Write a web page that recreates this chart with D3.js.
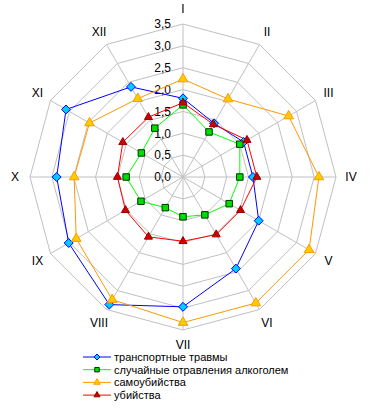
<!DOCTYPE html>
<html>
<head>
<meta charset="utf-8">
<script src="https://cdn.jsdelivr.net/npm/d3@7"></script>
<style>
  body { margin: 0; background: #fff; }
  svg { display: block; font-family: "Liberation Sans", Arial, sans-serif; }
</style>
</head>
<body>
<svg id="chart" width="372" height="408"></svg>
<script>
const months = ["I", "II", "III", "IV", "V", "VI", "VII", "VIII", "IX", "X", "XI", "XII"];
const ticks = [0, 0.5, 1, 1.5, 2, 2.5, 3, 3.5];

const transport = [1.8, 1.42, 1.6, 1.6, 2.0, 2.42, 2.97, 3.37, 3.02, 2.89, 3.09, 2.38];
const alcohol   = [1.65, 1.19, 1.5, 1.3, 1.22, 1.0, 0.91, 0.81, 1.11, 1.3, 1.1, 1.29];
const suicide   = [2.24, 2.06, 2.79, 3.11, 3.33, 3.33, 3.33, 3.24, 2.82, 2.49, 2.47, 2.07];
const homicide  = [1.7, 1.39, 1.69, 1.69, 1.52, 1.52, 1.47, 1.58, 1.52, 1.5, 1.59, 1.58];

const seriesNames = ["транспортные травмы", "случайные отравления алкоголем", "самоубийства", "убийства"];

// square rotated 45 degrees, as Excel draws its diamond marker
const diamond = {
  draw(ctx, size) {
    const h = Math.sqrt(size / 2);
    ctx.moveTo(0, -h); ctx.lineTo(h, 0); ctx.lineTo(0, h); ctx.lineTo(-h, 0); ctx.closePath();
  }
};

const series = [
  { name: seriesNames[0], values: transport, line: "#0000ff", fill: "#00ccff", stroke: "#0000ff", shape: diamond, size: 40, lsize: 18 },
  { name: seriesNames[1], values: alcohol,   line: "#00ff00", fill: "#00dd00", stroke: "#003300", shape: d3.symbolSquare, size: 42, lsize: 20 },
  { name: seriesNames[2], values: suicide,   line: "#ff9900", fill: "#ffcc00", stroke: "#ff9900", shape: d3.symbolTriangle, size: 40, lsize: 18 },
  { name: seriesNames[3], values: homicide,  line: "#ff0000", fill: "#cc0000", stroke: "#990000", shape: d3.symbolTriangle, size: 28, lsize: 16 }
];

const svg = d3.select("#chart");
const cx = 183, cy = 177, R = 153;

const r = d3.scaleLinear().domain([0, 3.5]).range([0, R]);
const angle = d3.scalePoint().domain(months).range([0, 2 * Math.PI * 11 / 12]);

const g = svg.append("g").attr("transform", `translate(${cx},${cy})`);

const radial = d3.lineRadial()
  .angle((d, i) => angle(months[i]))
  .radius(d => r(d))
  .curve(d3.curveLinearClosed);

// web grid
g.selectAll(".ring")
  .data(ticks.slice(1))
  .join("path")
  .attr("class", "ring")
  .attr("d", t => radial(months.map(() => t)))
  .attr("fill", "none")
  .attr("stroke", "#c0c0c0")
  .attr("stroke-width", 1);

g.selectAll(".spoke")
  .data(months)
  .join("line")
  .attr("class", "spoke")
  .attr("x1", 0).attr("y1", 0)
  .attr("x2", m => r(3.5) * Math.sin(angle(m)))
  .attr("y2", m => -r(3.5) * Math.cos(angle(m)))
  .attr("stroke", "#c0c0c0")
  .attr("stroke-width", 1);

// month labels
g.selectAll(".mlabel")
  .data(months)
  .join("text")
  .attr("class", "mlabel")
  .attr("x", m => (R + 15) * Math.sin(angle(m)))
  .attr("y", m => -(R + 15) * Math.cos(angle(m)))
  .attr("dy", "0.35em")
  .attr("text-anchor", "middle")
  .attr("font-size", 12)
  .attr("fill", "#000")
  .text(m => m);

// tick labels
g.selectAll(".tlabel")
  .data(ticks)
  .join("text")
  .attr("class", "tlabel")
  .attr("x", -12)
  .attr("y", t => -r(t))
  .attr("dy", "0.35em")
  .attr("text-anchor", "end")
  .attr("font-size", 12)
  .attr("fill", "#000")
  .text(t => d3.format(".1f")(t).replace(".", ","));

// series
series.forEach(s => {
  g.append("path")
    .attr("d", radial(s.values))
    .attr("fill", "none")
    .attr("stroke", s.line)
    .attr("stroke-width", 1);
});

series.forEach(s => {
  g.selectAll(null)
    .data(s.values)
    .join("path")
    .attr("transform", (d, i) => {
      const a = angle(months[i]);
      return `translate(${r(d) * Math.sin(a)},${-r(d) * Math.cos(a)})`;
    })
    .attr("d", d3.symbol().type(s.shape).size(s.size))
    .attr("fill", s.fill)
    .attr("stroke", s.stroke)
    .attr("stroke-width", 1);
});

// legend
const legend = svg.append("g").attr("transform", "translate(83,357)");
const rows = legend.selectAll("g")
  .data(series)
  .join("g")
  .attr("transform", (d, i) => `translate(0,${i * 12.7})`);

rows.append("line")
  .attr("x1", 0).attr("x2", 28)
  .attr("stroke", d => d.line)
  .attr("stroke-width", 1);

rows.append("path")
  .attr("transform", "translate(14,0)")
  .attr("d", d => d3.symbol().type(d.shape).size(d.lsize)())
  .attr("fill", d => d.fill)
  .attr("stroke", d => d.stroke);

rows.append("text")
  .attr("x", 31)
  .attr("dy", "0.35em")
  .attr("font-size", 11)
  .attr("fill", "#000")
  .text(d => d.name);
</script>
</body>
</html>
